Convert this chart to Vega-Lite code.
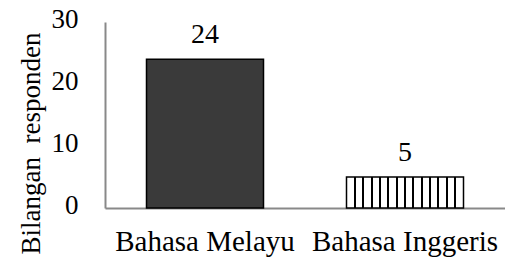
{
  "$schema": "https://vega.github.io/schema/vega-lite/v6.json",
  "width": 400,
  "height": 186,
  "autosize": {"type": "none"},
  "padding": {"left": 105, "top": 22, "right": 0, "bottom": 59},
  "background": "white",
  "config": {
    "view": {"stroke": null},
    "font": "Times",
    "axis": {"grid": false, "ticks": false, "domainColor": "#898989", "domainWidth": 2, "labelColor": "black", "labelFont": "Times", "titleFont": "Times", "titleColor": "black", "titleFontWeight": "normal"}
  },
  "data": {"values": [
    {"bahasa": "Bahasa Melayu", "responden": 24},
    {"bahasa": "Bahasa Inggeris", "responden": 5}
  ]},
  "encoding": {
    "x": {"field": "bahasa", "type": "nominal", "sort": null,
      "scale": {"paddingInner": 0.415, "paddingOuter": 0.2075},
      "axis": {"title": null, "labelAngle": 0, "labelFontSize": 29, "labelPadding": 19, "labelLimit": 400, "labelOverlap": false}},
    "y": {"field": "responden", "type": "quantitative",
      "scale": {"domain": [0, 30], "nice": false},
      "axis": {"title": "Bilangan\u00a0 responden", "values": [0, 10, 20, 30], "labelFontSize": 27, "labelPadding": 27, "labelOffset": -3,
        "titleFontSize": 27, "titleX": -74, "titleY": 121, "titleBaseline": "middle", "titleAngle": -90}}
  },
  "layer": [
    {
      "transform": [{"filter": "datum.bahasa === 'Bahasa Melayu'"}],
      "mark": {"type": "bar", "fill": "#3a3a3a", "stroke": "black", "strokeWidth": 1.5}
    },
    {
      "transform": [{"filter": "datum.bahasa === 'Bahasa Inggeris'"}],
      "mark": {"type": "bar", "stroke": "black", "strokeWidth": 1.5,
        "fill": {"gradient": "linear", "x1": 0, "x2": 1, "y1": 0, "y2": 0, "stops": [
          {"offset": 0, "color": "white"},
          {"offset": 0.0634, "color": "white"}, {"offset": 0.0634, "color": "black"}, {"offset": 0.0794, "color": "black"}, {"offset": 0.0794, "color": "white"},
          {"offset": 0.1349, "color": "white"}, {"offset": 0.1349, "color": "black"}, {"offset": 0.1509, "color": "black"}, {"offset": 0.1509, "color": "white"},
          {"offset": 0.2063, "color": "white"}, {"offset": 0.2063, "color": "black"}, {"offset": 0.2223, "color": "black"}, {"offset": 0.2223, "color": "white"},
          {"offset": 0.2777, "color": "white"}, {"offset": 0.2777, "color": "black"}, {"offset": 0.2937, "color": "black"}, {"offset": 0.2937, "color": "white"},
          {"offset": 0.3491, "color": "white"}, {"offset": 0.3491, "color": "black"}, {"offset": 0.3651, "color": "black"}, {"offset": 0.3651, "color": "white"},
          {"offset": 0.4206, "color": "white"}, {"offset": 0.4206, "color": "black"}, {"offset": 0.4366, "color": "black"}, {"offset": 0.4366, "color": "white"},
          {"offset": 0.4920, "color": "white"}, {"offset": 0.4920, "color": "black"}, {"offset": 0.5080, "color": "black"}, {"offset": 0.5080, "color": "white"},
          {"offset": 0.5634, "color": "white"}, {"offset": 0.5634, "color": "black"}, {"offset": 0.5794, "color": "black"}, {"offset": 0.5794, "color": "white"},
          {"offset": 0.6349, "color": "white"}, {"offset": 0.6349, "color": "black"}, {"offset": 0.6509, "color": "black"}, {"offset": 0.6509, "color": "white"},
          {"offset": 0.7063, "color": "white"}, {"offset": 0.7063, "color": "black"}, {"offset": 0.7223, "color": "black"}, {"offset": 0.7223, "color": "white"},
          {"offset": 0.7777, "color": "white"}, {"offset": 0.7777, "color": "black"}, {"offset": 0.7937, "color": "black"}, {"offset": 0.7937, "color": "white"},
          {"offset": 0.8491, "color": "white"}, {"offset": 0.8491, "color": "black"}, {"offset": 0.8651, "color": "black"}, {"offset": 0.8651, "color": "white"},
          {"offset": 0.9206, "color": "white"}, {"offset": 0.9206, "color": "black"}, {"offset": 0.9366, "color": "black"}, {"offset": 0.9366, "color": "white"},
          {"offset": 1, "color": "white"}
        ]}}
    },
    {
      "mark": {"type": "text", "font": "Times", "fontSize": 28, "color": "black", "baseline": "alphabetic", "dy": -16},
      "encoding": {"text": {"field": "responden", "type": "quantitative"}}
    }
  ]
}
